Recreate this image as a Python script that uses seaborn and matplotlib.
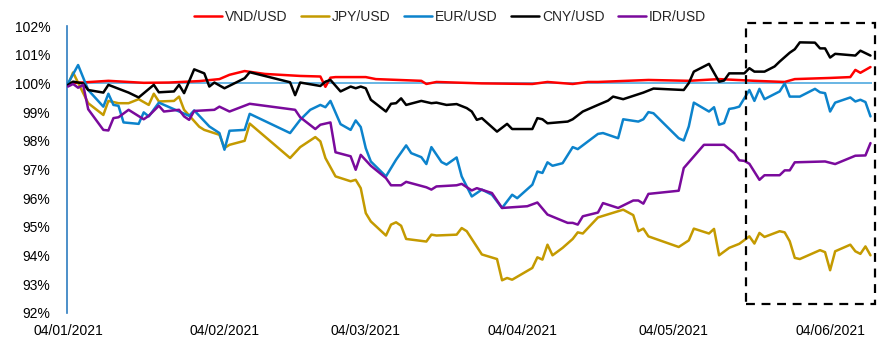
import numpy as np
import pandas as pd
import matplotlib
matplotlib.use("Agg")
import matplotlib.pyplot as plt
import matplotlib.dates as mdates
from matplotlib.patches import Rectangle
from matplotlib.ticker import FuncFormatter
import seaborn as sns

# ---------------- data (index, 04/01/2021 = 100%) ----------------
vnd_dates = ["01-04","01-12","01-19","01-24","01-30","02-03","02-05","02-08","02-12","02-19","02-23","02-24",
             "02-25","02-26","03-04","03-06","03-15","03-16","03-18","03-27","04-06","04-09","04-14","04-17",
             "04-19","04-29","05-07","05-13","05-20","05-26","05-28","06-04","06-08","06-09","06-10","06-12"]
vnd_vals = [100.0,100.09,100.02,100.03,100.08,100.15,100.3,100.43,100.33,100.26,100.24,99.88,
            100.2,100.22,100.22,100.15,100.09,99.98,100.05,100.0,99.98,100.05,99.98,100.05,
            100.05,100.12,100.09,100.15,100.09,100.05,100.15,100.19,100.22,100.47,100.37,100.57]

jpy_dates = ["01-04","01-05","01-08","01-11","01-12","01-14","01-16","01-18","01-20","01-21","01-22","01-25",
             "01-26","01-27","01-30","01-31","02-03","02-04","02-05","02-08","02-09","02-17","02-19","02-22",
             "02-23","02-24","02-26","03-01","03-02","03-03","03-04","03-05","03-08","03-09","03-10","03-11",
             "03-12","03-16","03-17","03-18","03-22","03-23","03-24","03-27","03-30","03-31","04-01","04-02",
             "04-06","04-07","04-08","04-09","04-10","04-12","04-14","04-15","04-16","04-19","04-24","04-26",
             "04-27","04-28","04-29","05-05","05-07","05-08","05-11","05-12","05-13","05-15","05-17","05-19",
             "05-20","05-21","05-22","05-25","05-26","05-27","05-28","05-29","06-02","06-03","06-04","06-05",
             "06-08","06-09","06-10","06-11","06-12"]
jpy_vals = [99.95,100.38,99.31,98.9,99.39,99.31,99.31,99.45,99.25,99.64,99.37,99.39,
            99.54,99.08,98.49,98.38,98.21,97.75,97.86,98.0,98.6,97.4,97.78,98.13,
            97.98,97.4,96.76,96.59,96.64,96.35,95.48,95.19,94.7,95.08,95.16,95.04,
            94.58,94.49,94.73,94.7,94.73,94.96,94.85,94.04,93.88,93.14,93.22,93.16,
            93.57,93.94,93.86,94.38,94.01,94.27,94.58,94.81,94.77,95.33,95.6,95.41,
            94.85,94.94,94.67,94.3,94.53,94.94,94.77,94.93,94.01,94.27,94.41,94.67,
            94.42,94.79,94.65,94.85,94.81,94.5,93.92,93.88,94.19,94.12,93.49,94.15,
            94.38,94.15,94.06,94.32,94.01]

eur_dates = ["01-04","01-06","01-08","01-11","01-12","01-13","01-14","01-15","01-18","01-19","01-20","01-22",
             "01-25","01-28","01-29","02-01","02-03","02-04","02-05","02-08","02-09","02-17","02-19","02-21",
             "02-23","02-24","02-25","02-27","03-01","03-02","03-03","03-04","03-05","03-08","03-10","03-12",
             "03-13","03-15","03-16","03-17","03-19","03-20","03-22","03-23","03-25","03-27","03-29","03-31",
             "04-02","04-03","04-06","04-07","04-08","04-09","04-10","04-12","04-14","04-15","04-19","04-20",
             "04-23","04-24","04-27","04-28","04-29","04-30","05-05","05-06","05-07","05-08","05-11","05-12",
             "05-13","05-14","05-15","05-16","05-17","05-19","05-20","05-21","05-22","05-25","05-26","05-27",
             "05-29","06-01","06-02","06-03","06-04","06-05","06-08","06-09","06-10","06-11","06-12"]
eur_vals = [100.0,100.64,99.77,99.19,99.64,99.25,99.22,98.64,98.59,98.99,98.85,99.33,
            99.1,98.87,99.06,98.5,98.27,97.69,98.35,98.38,98.94,98.27,98.73,99.08,
            99.25,99.17,99.39,98.58,98.38,98.71,98.48,97.74,97.28,96.76,97.34,97.84,
            97.57,97.43,97.19,97.78,97.26,97.17,97.42,96.76,96.06,96.3,96.12,95.66,
            96.12,96.0,96.47,96.93,96.88,97.25,97.13,97.22,97.78,97.71,98.24,98.27,
            98.09,98.75,98.67,98.75,99.0,98.96,98.09,98.01,98.5,99.33,99.02,99.17,
            98.56,98.62,99.11,99.14,99.19,99.77,99.39,99.81,99.45,99.72,100.0,99.54,
            99.54,99.81,99.69,99.66,99.02,99.33,99.51,99.37,99.43,99.35,98.85]

cny_dates = ["01-04","01-05","01-07","01-08","01-11","01-12","01-16","01-18","01-21","01-22","01-25","01-26",
             "01-27","01-29","01-31","02-01","02-02","02-04","02-08","02-09","02-17","02-18","02-19","02-23",
             "02-24","02-25","02-27","03-01","03-02","03-03","03-04","03-05","03-08","03-09","03-10","03-11",
             "03-12","03-15","03-17","03-18","03-20","03-22","03-24","03-25","03-26","03-27","03-30","04-01",
             "04-02","04-06","04-07","04-08","04-09","04-13","04-14","04-16","04-19","04-21","04-22","04-24",
             "04-28","04-30","05-06","05-07","05-08","05-11","05-13","05-14","05-15","05-18","05-19","05-20",
             "05-22","05-24","05-25","05-27","05-28","05-29","06-01","06-02","06-03","06-04","06-05","06-09",
             "06-10","06-12"]
cny_vals = [99.95,100.06,100.0,99.77,99.68,99.95,99.68,99.51,99.95,99.69,99.72,99.95,
            99.66,100.49,100.35,99.89,100.03,99.83,100.18,100.39,100.04,99.59,100.03,99.91,
            100.06,100.12,99.72,99.89,99.83,99.89,99.83,99.43,99.02,99.29,99.31,99.48,
            99.25,99.39,99.31,99.33,99.25,99.28,99.14,99.02,98.73,98.79,98.32,98.59,
            98.41,98.41,98.79,98.75,98.61,98.67,98.75,99.02,99.25,99.40,99.54,99.45,
            99.68,99.82,99.77,100.01,100.41,100.68,100.06,100.1,100.35,100.35,100.53,100.41,
            100.41,100.59,100.76,101.07,101.19,101.43,101.42,101.22,101.22,100.90,101.03,100.97,
            101.14,100.97]

idr_dates = ["01-04","01-05","01-06","01-07","01-08","01-11","01-12","01-13","01-14","01-16","01-19","01-20",
             "01-22","01-23","01-26","01-27","01-28","01-29","02-02","02-03","02-05","02-09","02-18","02-19",
             "02-22","02-23","02-25","02-26","03-01","03-02","03-03","03-05","03-08","03-09","03-11","03-12",
             "03-16","03-17","03-18","03-22","03-23","03-25","03-26","03-29","03-31","04-05","04-07","04-09",
             "04-13","04-14","04-15","04-16","04-19","04-20","04-23","04-26","04-27","04-28","04-29","05-05",
             "05-06","05-10","05-14","05-16","05-17","05-18","05-19","05-21","05-22","05-25","05-26","05-27",
             "05-28","06-03","06-05","06-09","06-11","06-12"]
idr_vals = [99.89,99.98,99.85,99.95,99.1,98.38,98.36,98.79,98.82,99.08,98.75,98.87,
            99.22,99.02,99.08,98.85,98.73,99.04,99.08,99.19,99.02,99.29,99.08,98.82,
            98.41,98.56,98.64,97.6,97.46,96.99,97.51,97.13,96.7,96.45,96.45,96.57,
            96.38,96.3,96.41,96.45,96.5,96.27,96.35,96.18,95.66,95.72,95.85,95.43,
            95.14,95.14,95.08,95.37,95.5,95.83,95.66,95.92,95.92,95.81,96.15,96.26,
            97.05,97.86,97.86,97.57,97.32,97.3,97.2,96.64,96.8,96.8,96.97,96.97,
            97.25,97.28,97.19,97.48,97.49,97.92]

series_names = ["VND/USD", "JPY/USD", "EUR/USD", "CNY/USD", "IDR/USD"]
series_colors = ["#FF0000", "#C49A00", "#0C83CC", "#000000", "#7A0A9C"]
tick_dates = ["2021-01-04", "2021-02-04", "2021-03-04", "2021-04-04", "2021-05-04", "2021-06-04"]
tick_labels = ["04/01/2021", "04/02/2021", "04/03/2021", "04/04/2021", "04/05/2021", "04/06/2021"]
y_ticks = [92, 93, 94, 95, 96, 97, 98, 99, 100, 101, 102]

# ---------------- build long table ----------------
frames = []
for name, d, v in zip(series_names,
                      [vnd_dates, jpy_dates, eur_dates, cny_dates, idr_dates],
                      [vnd_vals, jpy_vals, eur_vals, cny_vals, idr_vals]):
    frames.append(pd.DataFrame({"date": pd.to_datetime(["2021-" + s for s in d]),
                                "value": v, "pair": name}))
df = pd.concat(frames, ignore_index=True)

sns.set_theme(style="white")
plt.rcParams["font.family"] = ["Liberation Sans", "DejaVu Sans"]

fig = plt.figure(figsize=(8.94, 3.52), dpi=100)
ax = fig.add_axes([67 / 894, 1 - 313 / 352, (872 - 67) / 894, (313 - 26) / 352])

ax.axhline(100, color="#5DB0E2", lw=1.3, zorder=1)

sns.lineplot(data=df, x="date", y="value", hue="pair", hue_order=series_names,
             palette=dict(zip(series_names, series_colors)), lw=1.8, ax=ax,
             sort=False, estimator=None, zorder=3)

start = pd.Timestamp("2021-01-04")
ax.set_xlim(start - pd.Timedelta(days=0.2), start + pd.Timedelta(days=159.3))
ax.set_ylim(92, 102)
ax.set_yticks(y_ticks)
ax.yaxis.set_major_formatter(FuncFormatter(lambda v, p: f"{v:.0f}%"))
ax.set_xticks(pd.to_datetime(tick_dates))
ax.set_xticklabels(tick_labels)
ax.tick_params(axis="both", length=0, labelsize=10, colors="black")
ax.tick_params(axis="y", pad=12)
ax.tick_params(axis="x", pad=8)
ax.set_xlabel("")
ax.set_ylabel("")
for s in ["top", "right", "bottom"]:
    ax.spines[s].set_visible(False)
ax.spines["left"].set_color("#2E7DC0")
ax.spines["left"].set_linewidth(1.2)
ax.grid(False)

# dashed highlight box
x0 = mdates.date2num(start + pd.Timedelta(days=134.4))
x1 = mdates.date2num(start + pd.Timedelta(days=159.9))
rect = Rectangle((x0, 92.33), x1 - x0, 102.1 - 92.33, fill=False, ec="black",
                 lw=1.6, ls=(0, (4, 3)), clip_on=False, zorder=5)
ax.add_patch(rect)

handles, labels = ax.get_legend_handles_labels()
ax.legend(handles, labels, loc="center", bbox_to_anchor=(0.476, 1.032), ncol=5,
          frameon=False, fontsize=10, handlelength=2.0, columnspacing=1.0,
          handletextpad=0.2, borderaxespad=0)

fig.savefig("out.png", dpi=100)
